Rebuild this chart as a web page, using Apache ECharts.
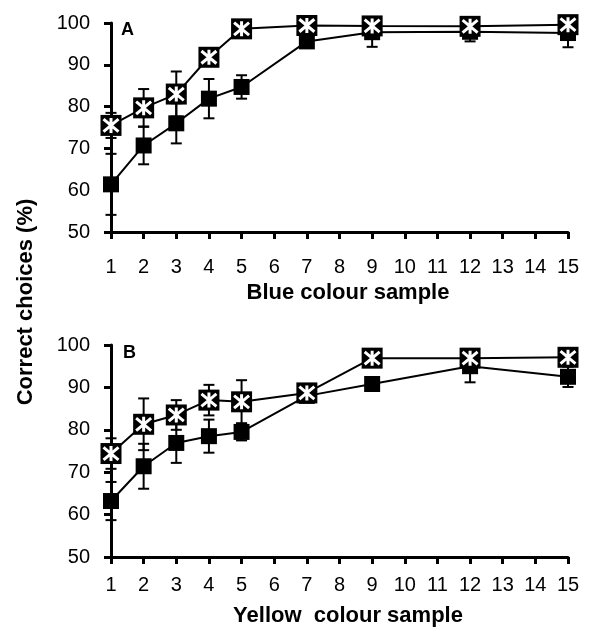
<!DOCTYPE html>
<html>
<head>
<meta charset="utf-8">
<script src="https://cdn.jsdelivr.net/npm/echarts@6/dist/echarts.min.js"></script>
<style>
html,body{margin:0;padding:0;background:#fff;}
#chart{width:589px;height:627px;}
</style>
</head>
<body>
<div id="chart"></div>
<script>
// Sample positions
var samples = [1, 2, 3, 4, 5, 7, 9, 12, 15];
var xTicks = [1,2,3,4,5,6,7,8,9,10,11,12,13,14,15];
var yTicks = [50, 60, 70, 80, 90, 100];

// Panel A: blue
var blueFilled    = [61.4, 70.7, 76.0, 81.9, 84.7, 95.6, 97.8, 97.9, 97.6];
var blueFilledErr = [7.3, 4.5, 4.8, 4.7, 2.8, 1.0, 3.5, 2.3, 3.4];
var blueOpen      = [75.5, 79.7, 83.0, 91.8, 98.6, 99.4, 99.3, 99.2, 99.6];
var blueOpenErr   = [3.0, 4.5, 5.4, 2.0, 1.0, 0.8, 1.0, 1.0, 0.8];

// Panel B: yellow
var yellowFilled    = [63.2, 71.4, 76.9, 78.5, 79.5, 88.0, 90.8, 95.0, 92.5];
var yellowFilledErr = [4.5, 5.3, 4.7, 3.9, 2.0, 1.0, 1.5, 3.8, 2.4];
var yellowOpen      = [74.4, 81.3, 83.5, 87.0, 86.6, 88.7, 96.9, 96.9, 97.1];
var yellowOpenErr   = [3.6, 6.1, 3.5, 3.6, 5.1, 1.0, 1.5, 1.0, 1.0];

var FONT = 'Liberation Sans, Arial, sans-serif';

function pairs(vals){ return samples.map(function(x,i){ return [x, vals[i]]; }); }
function errData(vals, errs){ return samples.map(function(x,i){ return [x, vals[i]-errs[i], vals[i]+errs[i]]; }); }

function errSeries(idx, vals, errs){
  return {
    type: 'custom', xAxisIndex: idx, yAxisIndex: idx, z: 1, silent: true,
    data: errData(vals, errs),
    encode: {x: 0, y: [1, 2]},
    renderItem: function(params, api){
      var x = api.value(0);
      var lo = api.coord([x, api.value(1)]);
      var hi = api.coord([x, api.value(2)]);
      var hw = 5.5;
      var st = {stroke: '#000', lineWidth: 2};
      return {type: 'group', children: [
        {type: 'line', shape: {x1: lo[0], y1: lo[1], x2: hi[0], y2: hi[1]}, style: st},
        {type: 'line', shape: {x1: lo[0]-hw, y1: lo[1], x2: lo[0]+hw, y2: lo[1]}, style: st},
        {type: 'line', shape: {x1: hi[0]-hw, y1: hi[1], x2: hi[0]+hw, y2: hi[1]}, style: st}
      ]};
    }
  };
}

function filledSeries(idx, vals){
  return {
    type: 'line', xAxisIndex: idx, yAxisIndex: idx, z: 3,
    data: pairs(vals), symbol: 'rect', symbolSize: 16,
    lineStyle: {color: '#000', width: 2}, itemStyle: {color: '#000'},
    animation: false
  };
}
function openSeries(idx, vals){
  return {
    type: 'line', xAxisIndex: idx, yAxisIndex: idx, z: 4,
    data: pairs(vals), symbol: 'rect', symbolSize: 21,
    lineStyle: {color: '#000', width: 2}, itemStyle: {color: '#000'},
    animation: false
  };
}
function starSeries(idx, vals){
  return {
    type: 'scatter', xAxisIndex: idx, yAxisIndex: idx, z: 5,
    data: pairs(vals),
    symbol: 'path://M0,0L10,10M10,0L0,10M5,-1L5,11',
    symbolSize: 15,
    itemStyle: {color: 'rgba(0,0,0,0)', borderColor: '#fff', borderWidth: 3, opacity: 1},
    animation: false
  };
}

function xAxisDef(idx, margin){
  return {
    type: 'value', gridIndex: idx, min: 1, max: 15, interval: 1,
    axisLine: {show: true, onZero: false, lineStyle: {color: '#000', width: 3}},
    axisTick: {show: true, inside: false, length: 7, lineStyle: {color: '#000', width: 3}},
    axisLabel: {color: '#000', fontFamily: FONT, fontSize: 20, margin: margin,
      formatter: function(v){ return xTicks.indexOf(v) >= 0 ? String(v) : ''; }},
    splitLine: {show: false}
  };
}
function yAxisDef(idx){
  return {
    type: 'value', gridIndex: idx, min: yTicks[0], max: yTicks[yTicks.length-1], interval: 10,
    axisLine: {show: true, onZero: false, lineStyle: {color: '#000', width: 3}},
    axisTick: {show: true, inside: false, length: 7, lineStyle: {color: '#000', width: 3}},
    axisLabel: {color: '#000', fontFamily: FONT, fontSize: 20, margin: 21},
    splitLine: {show: false}
  };
}

var chart = echarts.init(document.getElementById('chart'), null, {renderer: 'canvas'});
chart.setOption({
  backgroundColor: '#fff',
  animation: false,
  grid: [
    {left: 111, right: 21, top: 23, height: 209},
    {left: 111, right: 21, top: 345, height: 212}
  ],
  xAxis: [xAxisDef(0, 25), xAxisDef(1, 18)],
  yAxis: [yAxisDef(0), yAxisDef(1)],
  graphic: [
    {type: 'text', left: 121, top: 21, style: {text: 'A', font: 'bold 18px ' + FONT, fill: '#000'}},
    {type: 'text', left: 123, top: 344, style: {text: 'B', font: 'bold 18px ' + FONT, fill: '#000'}},
    {type: 'text', x: 348, y: 293, style: {text: 'Blue colour sample', font: 'bold 22px ' + FONT, fill: '#000', align: 'center', verticalAlign: 'middle'}},
    {type: 'text', x: 348, y: 616, style: {text: 'Yellow  colour sample', font: 'bold 22px ' + FONT, fill: '#000', align: 'center', verticalAlign: 'middle'}},
    {type: 'text', x: 26, y: 302, rotation: Math.PI/2, style: {text: 'Correct choices (%)', font: 'bold 22px ' + FONT, fill: '#000', align: 'center', verticalAlign: 'middle'}}
  ],
  series: [
    errSeries(0, blueFilled, blueFilledErr),
    errSeries(0, blueOpen, blueOpenErr),
    filledSeries(0, blueFilled),
    openSeries(0, blueOpen),
    starSeries(0, blueOpen),
    errSeries(1, yellowFilled, yellowFilledErr),
    errSeries(1, yellowOpen, yellowOpenErr),
    filledSeries(1, yellowFilled),
    openSeries(1, yellowOpen),
    starSeries(1, yellowOpen)
  ]
});
</script>
</body>
</html>
